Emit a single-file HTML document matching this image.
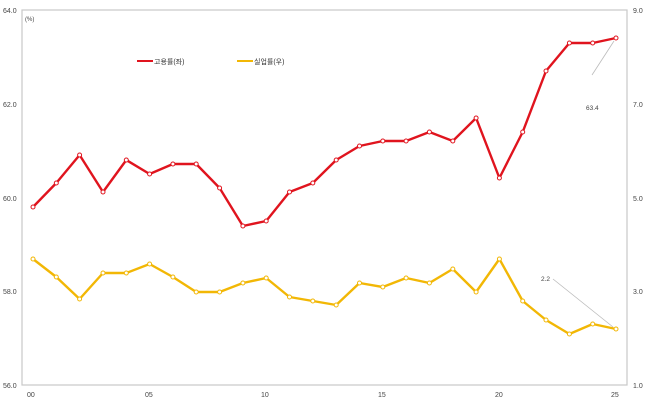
<!DOCTYPE html>
<html><head><meta charset="utf-8"><style>
body{margin:0;background:#fff;}
svg{display:block;font-family:"Liberation Sans","Noto Sans CJK KR",sans-serif;}
</style></head><body>
<svg width="650" height="401" viewBox="0 0 650 401">
<rect x="22" y="10" width="605" height="375" fill="none" stroke="#c8c8c8" stroke-width="1.2"/>
<g font-size="7" fill="#444">
<text x="3" y="13">64.0</text><text x="3" y="107">62.0</text><text x="3" y="201">60.0</text><text x="3" y="294">58.0</text><text x="3" y="388">56.0</text>
<text x="633" y="13">9.0</text><text x="633" y="107">7.0</text><text x="633" y="201">5.0</text><text x="633" y="294">3.0</text><text x="633" y="388">1.0</text>
<text x="27" y="397">00</text><text x="145" y="397">05</text><text x="261" y="397">10</text><text x="378" y="397">15</text><text x="495" y="397">20</text><text x="611" y="397">25</text>
<text x="25" y="21" font-size="6">(%)</text>
<text x="586" y="110" font-size="6.5">63.4</text>
<text x="541" y="281" font-size="6.5">2.2</text>
</g>
<line x1="592" y1="75" x2="614" y2="41" stroke="#bbb" stroke-width="0.8"/>
<line x1="553" y1="279" x2="613" y2="327" stroke="#bbb" stroke-width="0.8"/>
<line x1="137" y1="61" x2="153" y2="61" stroke="#e0141e" stroke-width="2"/>
<text x="154" y="64" font-size="7" fill="#333">고용률(좌)</text>
<line x1="237" y1="61" x2="253" y2="61" stroke="#f2b705" stroke-width="2"/>
<text x="254" y="64" font-size="7" fill="#333">실업률(우)</text>
<polyline fill="none" stroke="#e0141e" stroke-width="2.4" stroke-linejoin="round" points="33,207 56.3,183 79.6,155 103,192 126.3,160 149.6,174 172.9,164 196.2,164 219.6,188 242.9,226 266.2,221 289.5,192 312.8,183 336.2,160 359.5,146 382.8,141 406.1,141 429.4,132 452.8,141 476.1,118 499.4,178 522.7,132 546,71 569.4,43 592.7,43 616,38"/>
<polyline fill="none" stroke="#f2b705" stroke-width="2.4" stroke-linejoin="round" points="33,259 56.3,277 79.6,299 103,273 126.3,273 149.6,264 172.9,277 196.2,292 219.6,292 242.9,283 266.2,278 289.5,297 312.8,301 336.2,305 359.5,283 382.8,287 406.1,278 429.4,283 452.8,269 476.1,292 499.4,259 522.7,301 546,320 569.4,334 592.7,324 616,329"/>
<g fill="#fff" stroke="#e0141e" stroke-width="1">
<circle cx="33" cy="207" r="2"/><circle cx="56.3" cy="183" r="2"/><circle cx="79.6" cy="155" r="2"/><circle cx="103" cy="192" r="2"/><circle cx="126.3" cy="160" r="2"/><circle cx="149.6" cy="174" r="2"/><circle cx="172.9" cy="164" r="2"/><circle cx="196.2" cy="164" r="2"/><circle cx="219.6" cy="188" r="2"/><circle cx="242.9" cy="226" r="2"/><circle cx="266.2" cy="221" r="2"/><circle cx="289.5" cy="192" r="2"/><circle cx="312.8" cy="183" r="2"/><circle cx="336.2" cy="160" r="2"/><circle cx="359.5" cy="146" r="2"/><circle cx="382.8" cy="141" r="2"/><circle cx="406.1" cy="141" r="2"/><circle cx="429.4" cy="132" r="2"/><circle cx="452.8" cy="141" r="2"/><circle cx="476.1" cy="118" r="2"/><circle cx="499.4" cy="178" r="2"/><circle cx="522.7" cy="132" r="2"/><circle cx="546" cy="71" r="2"/><circle cx="569.4" cy="43" r="2"/><circle cx="592.7" cy="43" r="2"/><circle cx="616" cy="38" r="2"/>
</g>
<g fill="#fff" stroke="#f2b705" stroke-width="1">
<circle cx="33" cy="259" r="2"/><circle cx="56.3" cy="277" r="2"/><circle cx="79.6" cy="299" r="2"/><circle cx="103" cy="273" r="2"/><circle cx="126.3" cy="273" r="2"/><circle cx="149.6" cy="264" r="2"/><circle cx="172.9" cy="277" r="2"/><circle cx="196.2" cy="292" r="2"/><circle cx="219.6" cy="292" r="2"/><circle cx="242.9" cy="283" r="2"/><circle cx="266.2" cy="278" r="2"/><circle cx="289.5" cy="297" r="2"/><circle cx="312.8" cy="301" r="2"/><circle cx="336.2" cy="305" r="2"/><circle cx="359.5" cy="283" r="2"/><circle cx="382.8" cy="287" r="2"/><circle cx="406.1" cy="278" r="2"/><circle cx="429.4" cy="283" r="2"/><circle cx="452.8" cy="269" r="2"/><circle cx="476.1" cy="292" r="2"/><circle cx="499.4" cy="259" r="2"/><circle cx="522.7" cy="301" r="2"/><circle cx="546" cy="320" r="2"/><circle cx="569.4" cy="334" r="2"/><circle cx="592.7" cy="324" r="2"/><circle cx="616" cy="329" r="2"/>
</g>
</svg>
</body></html>
